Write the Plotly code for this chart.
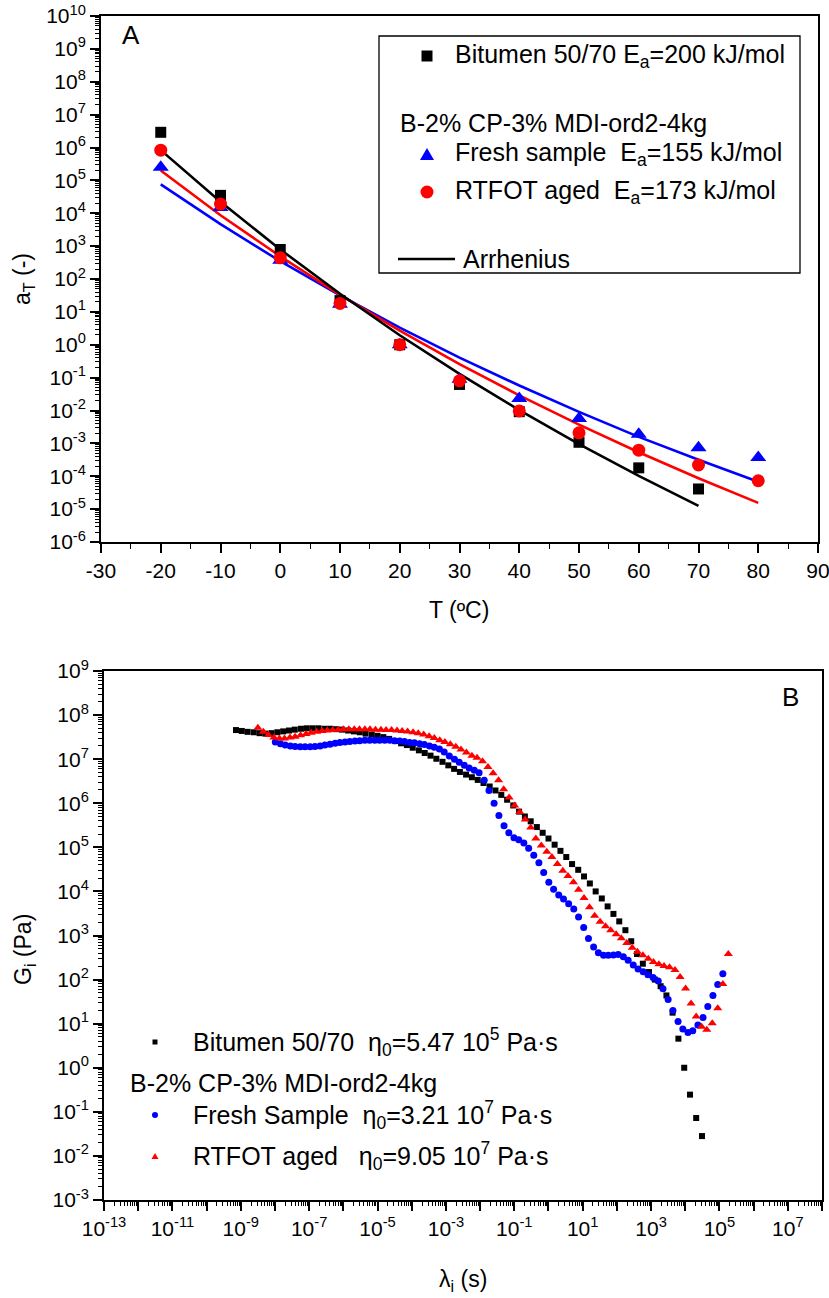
import plotly.graph_objects as go

W, H = 829, 1298
FONT = "Liberation Sans, Arial, sans-serif"


def px(x):
    return x / W


def py(y):
    return 1 - y / H


# ---------------- Panel A data ----------------
T_black = [-20, -10, 0, 10, 20, 30, 40, 50, 60, 70]
aT_black = [2.9e6, 3.5e4, 790, 22, 1.0, 0.062, 0.0092, 1.08e-3, 1.8e-4, 4.1e-5]

T_mod = [-20, -10, 0, 10, 20, 30, 40, 50, 60, 70, 80]
aT_fresh = [2.5e5, 1.5e4, 370, 17, 1.0, 0.09, 0.023, 5.7e-3, 1.9e-3, 7.4e-4, 3.7e-4]
aT_rtfot = [8.3e5, 1.9e4, 440, 18, 1.0, 0.08, 9.7e-3, 2.1e-3, 6.2e-4, 2.2e-4, 7.3e-5]

# Arrhenius fit curves (values at each temperature)
fit_black = [8.32e5, 2.24e4, 794, 35.5, 1.95, 0.130, 0.01035, 9.55e-4, 1.02e-4, 1.26e-5]
fit_fresh = [7.59e4, 4.68e3, 347, 31.6, 3.31, 0.407, 0.0575, 9.12e-3, 1.58e-3, 3.16e-4, 6.76e-5]
fit_rtfot = [2.0e5, 8.71e3, 490, 33.1, 2.69, 0.257, 0.0288, 3.72e-3, 5.37e-4, 8.71e-5, 1.55e-5]

# ---------------- Panel B data (log10 values) ----------------
lg_lam_black = [-9.14, -8.97, -8.80, -8.62, -8.45, -8.28, -8.10, -7.93, -7.76, -7.59,
                -7.42, -7.24, -7.07, -6.90, -6.73, -6.55, -6.38, -6.21, -6.04, -5.86,
                -5.69, -5.52, -5.35, -5.17, -5.00, -4.83, -4.66, -4.48, -4.31, -4.14,
                -3.97, -3.79, -3.62, -3.45, -3.28, -3.10, -2.93, -2.76, -2.59, -2.41,
                -2.24, -2.07, -1.90, -1.72, -1.55, -1.38, -1.21, -1.03, -0.86, -0.69,
                -0.52, -0.34, -0.17, 0.00, 0.18, 0.35, 0.52, 0.69, 0.87, 1.04,
                1.21, 1.38, 1.56, 1.73, 1.90, 2.07, 2.25, 2.42, 2.59, 2.76,
                2.94, 3.11, 3.28, 3.45, 3.63, 3.80, 3.97, 4.14, 4.32, 4.49]
lg_G_black = [7.66, 7.64, 7.62, 7.61, 7.59, 7.58, 7.59, 7.61, 7.63, 7.65,
              7.67, 7.69, 7.70, 7.70, 7.70, 7.69, 7.69, 7.68, 7.67, 7.65,
              7.63, 7.61, 7.58, 7.56, 7.53, 7.50, 7.46, 7.41, 7.36, 7.32,
              7.26, 7.20, 7.14, 7.08, 7.01, 6.94, 6.86, 6.78, 6.71, 6.65,
              6.59, 6.53, 6.46, 6.38, 6.29, 6.19, 6.08, 5.95, 5.81, 5.70,
              5.59, 5.46, 5.33, 5.20, 5.06, 4.92, 4.78, 4.62, 4.49, 4.34,
              4.18, 4.00, 3.84, 3.66, 3.49, 3.32, 3.12, 2.87, 2.58, 2.36,
              2.17, 2.00, 1.85, 1.64, 1.25, 0.66, 0.00, -0.61, -1.14, -1.55]

lg_lam_fresh = [-7.99, -7.84, -7.70, -7.55, -7.41, -7.26, -7.12, -6.97, -6.83, -6.68,
                -6.54, -6.39, -6.24, -6.10, -5.95, -5.81, -5.66, -5.52, -5.37, -5.23,
                -5.08, -4.94, -4.79, -4.64, -4.50, -4.35, -4.21, -4.06, -3.92, -3.77,
                -3.63, -3.48, -3.34, -3.19, -3.05, -2.90, -2.75, -2.61, -2.46, -2.32,
                -2.17, -2.03, -1.88, -1.74, -1.59, -1.45, -1.30, -1.16, -1.01, -0.87,
                -0.72, -0.58, -0.43, -0.28, -0.14, 0.01, 0.15, 0.30, 0.44, 0.59,
                0.74, 0.88, 1.03, 1.17, 1.32, 1.46, 1.61, 1.75, 1.90, 2.04,
                2.19, 2.33, 2.48, 2.62, 2.77, 2.91, 3.06, 3.21, 3.35, 3.50,
                3.64, 3.79, 3.93, 4.08, 4.22, 4.37, 4.52, 4.66, 4.81, 4.95, 5.10]
lg_G_fresh = [7.39, 7.35, 7.32, 7.30, 7.29, 7.28, 7.28, 7.28, 7.29, 7.30,
              7.32, 7.34, 7.36, 7.38, 7.39, 7.40, 7.41, 7.42, 7.43, 7.43,
              7.43, 7.43, 7.43, 7.43, 7.42, 7.41, 7.40, 7.38, 7.37, 7.35,
              7.33, 7.30, 7.27, 7.23, 7.16, 7.07, 7.00, 6.93, 6.86, 6.80,
              6.75, 6.69, 6.52, 6.29, 6.00, 5.72, 5.49, 5.33, 5.22, 5.17,
              5.10, 4.98, 4.82, 4.65, 4.43, 4.21, 4.05, 3.92, 3.83, 3.72,
              3.60, 3.42, 3.18, 2.93, 2.74, 2.61, 2.55, 2.55, 2.56, 2.57,
              2.52, 2.44, 2.33, 2.24, 2.18, 2.11, 2.05, 1.97, 1.79, 1.55,
              1.30, 1.05, 0.88, 0.80, 0.84, 0.97, 1.14, 1.39, 1.64, 1.89, 2.13]

lg_lam_rtfot = [-8.50, -8.34, -8.19, -8.03, -7.87, -7.72, -7.56, -7.41, -7.25, -7.09,
                -6.94, -6.78, -6.62, -6.47, -6.31, -6.15, -6.00, -5.84, -5.68, -5.53,
                -5.37, -5.22, -5.06, -4.90, -4.75, -4.59, -4.43, -4.28, -4.12, -3.96,
                -3.81, -3.65, -3.49, -3.34, -3.18, -3.03, -2.87, -2.71, -2.56, -2.40,
                -2.24, -2.09, -1.93, -1.77, -1.62, -1.46, -1.31, -1.15, -0.99, -0.84,
                -0.68, -0.52, -0.37, -0.21, -0.05, 0.10, 0.26, 0.42, 0.57, 0.73,
                0.88, 1.04, 1.20, 1.35, 1.51, 1.67, 1.82, 1.98, 2.13, 2.29,
                2.45, 2.60, 2.76, 2.92, 3.07, 3.23, 3.38, 3.54, 3.70, 3.85,
                4.01, 4.17, 4.32, 4.48, 4.63, 4.79, 4.95, 5.10, 5.26]
lg_G_rtfot = [7.71, 7.62, 7.55, 7.49, 7.47, 7.47, 7.49, 7.51, 7.54, 7.57,
              7.60, 7.62, 7.64, 7.65, 7.66, 7.67, 7.68, 7.68, 7.68, 7.68,
              7.68, 7.68, 7.67, 7.67, 7.66, 7.66, 7.65, 7.64, 7.63, 7.61,
              7.59, 7.56, 7.52, 7.48, 7.43, 7.39, 7.34, 7.28, 7.22, 7.15,
              7.08, 7.03, 6.95, 6.82, 6.68, 6.52, 6.32, 6.13, 5.95, 5.80,
              5.63, 5.45, 5.20, 5.04, 4.90, 4.78, 4.62, 4.47, 4.35, 4.21,
              4.04, 3.85, 3.64, 3.45, 3.31, 3.21, 3.12, 3.03, 2.94, 2.83,
              2.72, 2.63, 2.55, 2.47, 2.40, 2.35, 2.31, 2.28, 2.22, 2.06,
              1.80, 1.46, 1.16, 0.93, 0.86, 1.01, 1.35, 1.90, 2.58]

ya_exps = list(range(-6, 11))
yb_exps = list(range(-3, 10))
xb_exps = list(range(-13, 9))
xa_ticks = list(range(-30, 91, 10))

BLACK, BLUE, RED = "#000000", "#0000FF", "#FF0000"

fig = go.Figure()

# ---- Panel A: fit lines
for vals, T, col in [(fit_fresh, T_mod, BLUE), (fit_rtfot, T_mod, RED), (fit_black, T_black, BLACK)]:
    fig.add_trace(go.Scatter(x=T, y=vals, mode="lines", line=dict(color=col, width=2.6),
                             xaxis="x", yaxis="y", showlegend=False, hoverinfo="skip"))
# ---- Panel A: markers
fig.add_trace(go.Scatter(x=T_black, y=aT_black, mode="markers",
                         marker=dict(symbol="square", size=11, color=BLACK),
                         xaxis="x", yaxis="y", showlegend=False))
fig.add_trace(go.Scatter(x=T_mod, y=aT_fresh, mode="markers",
                         marker=dict(symbol="triangle-up", size=14, color=BLUE),
                         xaxis="x", yaxis="y", showlegend=False))
fig.add_trace(go.Scatter(x=T_mod, y=aT_rtfot, mode="markers",
                         marker=dict(symbol="circle", size=13, color=RED),
                         xaxis="x", yaxis="y", showlegend=False))

# ---- Panel B markers
fig.add_trace(go.Scatter(x=[10 ** v for v in lg_lam_black], y=[10 ** v for v in lg_G_black],
                         mode="markers", marker=dict(symbol="square", size=6, color=BLACK),
                         xaxis="x2", yaxis="y2", showlegend=False))
fig.add_trace(go.Scatter(x=[10 ** v for v in lg_lam_fresh], y=[10 ** v for v in lg_G_fresh],
                         mode="markers", marker=dict(symbol="circle", size=7, color=BLUE),
                         xaxis="x2", yaxis="y2", showlegend=False))
fig.add_trace(go.Scatter(x=[10 ** v for v in lg_lam_rtfot], y=[10 ** v for v in lg_G_rtfot],
                         mode="markers", marker=dict(symbol="triangle-up", size=8, color=RED),
                         xaxis="x2", yaxis="y2", showlegend=False))

tickfont = dict(family=FONT, size=21, color="black")
common = dict(showline=True, linecolor="black", linewidth=1.8, mirror=True,
              ticks="outside", ticklen=9, tickwidth=1.5, tickcolor="black",
              showgrid=False, zeroline=False, tickfont=tickfont, automargin=False,
              ticklabeloverflow="allow")
minor_log = dict(dtick="D1", ticks="outside", ticklen=4, tickwidth=1, tickcolor="black", showgrid=False)

fig.update_layout(
    template="none",
    width=W, height=H, margin=dict(l=0, r=0, t=0, b=0, autoexpand=False),
    paper_bgcolor="white", plot_bgcolor="white",
    font=dict(family=FONT, color="black"),
    xaxis=dict(domain=[px(101), px(818)], range=[-30, 90], anchor="y",
               tickmode="array", tickvals=xa_ticks, ticktext=[str(v) for v in xa_ticks],
               minor=dict(dtick=5, tick0=-30, ticks="outside", ticklen=5, tickwidth=1.2,
                          tickcolor="black", showgrid=False),
               **common),
    yaxis=dict(domain=[py(542), py(16)], type="log", range=[-6, 10], anchor="x",
               tickmode="array", tickvals=[10.0 ** k for k in ya_exps],
               ticktext=["10<sup>%d</sup>" % k for k in ya_exps],
               minor=minor_log, **common),
    xaxis2=dict(domain=[px(104), px(822)], type="log", range=[-13, 8], anchor="y2",
                tickmode="array", tickvals=[10.0 ** k for k in xb_exps],
                ticktext=[("10<sup>%d</sup>" % k) if k % 2 else "" for k in xb_exps],
                minor=minor_log, **common),
    yaxis2=dict(domain=[py(1200), py(671)], type="log", range=[-3, 9], anchor="x2",
                tickmode="array", tickvals=[10.0 ** k for k in yb_exps],
                ticktext=["10<sup>%d</sup>" % k for k in yb_exps],
                minor=minor_log, **common),
)

ann = []
shapes = []


def text(x, y, s, size=25, xanchor="left", angle=0):
    ann.append(dict(x=px(x), y=py(y), xref="paper", yref="paper", text=s, showarrow=False,
                    xanchor=xanchor, yanchor="middle", textangle=angle,
                    font=dict(family=FONT, size=size, color="black")))


def square(cx, cy, s, col):
    shapes.append(dict(type="rect", xref="paper", yref="paper", x0=px(cx - s / 2), x1=px(cx + s / 2),
                       y0=py(cy + s / 2), y1=py(cy - s / 2), fillcolor=col, line=dict(width=0)))


def circle(cx, cy, d, col):
    shapes.append(dict(type="circle", xref="paper", yref="paper", x0=px(cx - d / 2), x1=px(cx + d / 2),
                       y0=py(cy + d / 2), y1=py(cy - d / 2), fillcolor=col, line=dict(width=0)))


def triangle(cx, cy, s, col):
    h = s * 0.87
    path = "M %f %f L %f %f L %f %f Z" % (px(cx - s / 2), py(cy + h / 2), px(cx + s / 2), py(cy + h / 2),
                                          px(cx), py(cy - h / 2))
    shapes.append(dict(type="path", xref="paper", yref="paper", path=path, fillcolor=col, line=dict(width=0)))


NB = "\u00a0"
# Panel A labels
text(131, 35, "A", size=26, xanchor="center")
text(24, 279, "a<sub>T</sub> (-)", size=23, xanchor="center", angle=-90)
text(459, 610, "T (ºC)", size=23, xanchor="center")
# Panel A legend
shapes.append(dict(type="rect", xref="paper", yref="paper", x0=px(379), x1=px(800), y0=py(273), y1=py(36),
                   line=dict(color="black", width=1.3), fillcolor="rgba(0,0,0,0)"))
square(427, 56, 11, BLACK)
text(453, 56, "Bitumen 50/70 E<sub>a</sub>=200 kJ/mol")
text(398, 123, "B-2% CP-3% MDI-ord2-4kg")
triangle(427, 154, 14, BLUE)
text(453, 154, "Fresh sample" + NB + NB + "E<sub>a</sub>=155 kJ/mol")
circle(427, 192, 13, RED)
text(453, 192, "RTFOT aged" + NB + NB + "E<sub>a</sub>=173 kJ/mol")
shapes.append(dict(type="line", xref="paper", yref="paper", x0=px(398), x1=px(455), y0=py(259), y1=py(259),
                   line=dict(color="black", width=2.6)))
text(461, 259, "Arrhenius")

# Panel B labels
text(790, 697, "B", size=26, xanchor="center")
text(24, 950, "G<sub>i</sub> (Pa)", size=23, xanchor="center", angle=-90)
text(463, 1280, "λ<sub>i</sub> (s)", size=23, xanchor="center")
square(155, 1042, 5, BLACK)
text(191, 1042, "Bitumen 50/70" + NB + NB + "η<sub>0</sub>=5.47 10<sup>5</sup> Pa·s")
text(128, 1083, "B-2% CP-3% MDI-ord2-4kg")
circle(155, 1115, 6, BLUE)
text(191, 1115, "Fresh Sample" + NB + NB + "η<sub>0</sub>=3.21 10<sup>7</sup> Pa·s")
triangle(155, 1156, 7, RED)
text(191, 1156, "RTFOT aged" + NB + NB + NB + "η<sub>0</sub>=9.05 10<sup>7</sup> Pa·s")

fig.update_layout(annotations=ann, shapes=shapes)
fig.write_html("out.html")
